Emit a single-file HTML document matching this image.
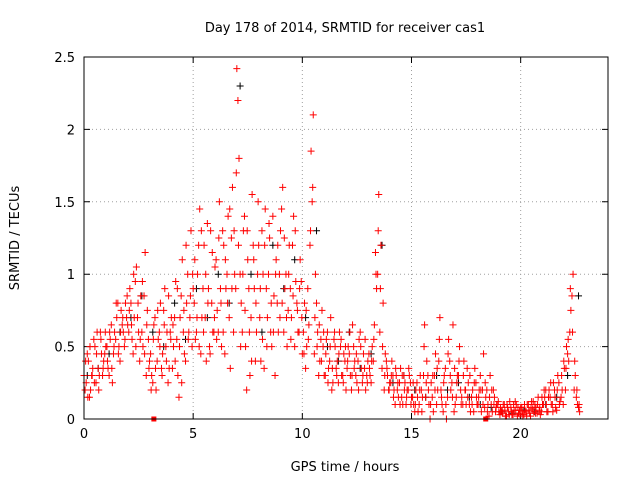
<!DOCTYPE html>
<html>
<head>
<meta charset="utf-8">
<style>
html,body{margin:0;padding:0;background:#fff;}
svg{display:block;}
text{font-family:"DejaVu Sans","Liberation Sans",sans-serif;font-size:13px;fill:#000;}
</style>
</head>
<body>
<svg id="chart" width="640" height="480" viewBox="0 0 640 480">
<rect x="0" y="0" width="640" height="480" fill="#fff"/>
<text x="345" y="32" text-anchor="middle">Day 178 of 2014, SRMTID for receiver cas1</text>
<text x="345" y="471" text-anchor="middle">GPS time / hours</text>
<text x="19" y="238" text-anchor="middle" transform="rotate(-90 19 238)">SRMTID / TECUs</text>
<g id="grid"></g>
<g id="ticks"></g>
<g id="marks"></g>
<rect x="84" y="57" width="524" height="362" fill="none" stroke="#000" stroke-width="1"/>
</svg>
<script>
const xTicks=[0,5,10,15,20];
const yTicks=[0,0.5,1,1.5,2,2.5];
const yTickLabels=["0","0.5","1","1.5","2","2.5"];
const redA=[.3,.25,.4,.2,.35,.5,.6,.3,.45,.4,.5,
.35,.55,.25,.6,.7,.5,.75,.6,.8,.65,
.9,.55,.7,1.05,.6,.85,.5,1.15,.75,.4,
.3,.65,.2,.55,.8,.45,.9,.6,.35,.7,
.5,.95,.3,.7,1.1,.45,.8,.6,1.3,.9,
.55,1.0,1.45,.7,1.2,.4,.9,1.3,.6,1.05,
.75,1.5,.5,1.2,.9,1.4,.35,1.6,1.0,2.42,
1.8,.8,1.3,.5,1.1,.3,1.55,.9,.6,1.2,
.4,1.0,1.45,.7,1.25,.5,.85,1.1,.6,1.3,
1.6,.9,.5,1.2,.7,1.4,.95,.6,1.1,.45,
.8,.5,.65,1.85,2.1,1.0,.6,.4,.75,.3,
.55,.35,.7,.25,.5,.4,.6,.3,.45,.2,
.5,.3,.65,.4,.25,.55,.35,.45,.2,.4,
.3,.5,.65,.9,1.55,1.2,.8,.45,.3,.25,
.4,.2,.3,.15,.35,.1,.25,.2,.3,.15,
.1,.2,.05,.3,.15,.65,.4,.1,.25,.05,
.45,.2,.7,.1,.3,.0,.55,.2,.65,.1,
.3,.5,.15,.4,.1,.25,.05,.2,.35,.1,
.2,.05,.45,.15,.1,.3,.05,.15,.1,.05,
.05,.1,.02,.08,.12,.03,.06,.1,.04,.08,
.02,.06,.1,.04,.12,.05,.08,.15,.03,.1,
.15,.05,.2,.1,.25,.08,.3,.12,.2,.35,
.5,.4,.75,1.0,.3,.1,.05];
const redB=[.2,.45,.15,.3,.55,.25,.35,.6,.3,.45,
.5,.3,.65,.45,.55,.8,.4,.65,.5,.7,
.6,.8,.45,.95,.7,.4,.6,.85,.3,.55,
.45,.25,.7,.4,.6,.35,.75,.5,.25,.6,
.35,.7,.55,.15,.85,.6,.4,1.0,.7,.5,
.8,.6,1.2,.45,.9,.7,1.35,.5,.8,.6,
1.1,.6,.9,1.3,.45,1.0,.7,1.25,.6,.9,
2.2,1.0,.6,1.4,.2,.9,.7,1.2,.4,1.0,
.7,1.3,.35,.9,1.0,.6,1.4,.3,.8,1.0,
1.45,.6,1.0,.75,.9,1.2,.5,.8,.6,.95,
.6,.35,.9,1.2,1.5,.45,.8,.3,.55,.5,
.3,.6,.4,.2,.55,.35,.25,.5,.3,.4,
.35,.45,.2,.5,.3,.4,.6,.25,.35,.3,
.45,.25,.4,1.15,1.0,.6,.35,.2,.4,.2,
.25,.3,.1,.2,.25,.15,.3,.1,.2,.25,
.15,.05,.25,.1,.2,.3,.15,.3,.0,.15,
.3,.1,.4,.2,.05,.35,.15,.4,.25,.05,
.15,.3,.2,.1,.2,.35,.1,.15,.05,.25,
.1,.3,.2,.08,.2,.02,.1,.2,.05,.1,
.03,.06,.1,.02,.05,.08,.03,.12,.02,.06,
.08,.03,.05,.1,.02,.07,.1,.04,.06,.05,
.1,.2,.05,.15,.1,.2,.06,.25,.15,.1,
.2,.45,.6,.85,.2,.15,.08];
const redC=[.4,.15,.5,.3,.25,.45,.2,.55,.35,.6,
.4,.6,.35,.5,.8,.45,.6,.7,.55,.85,
.75,.65,1.0,.5,.8,.55,.95,.45,.65,.35,
.2,.55,.35,.75,.5,.3,.65,.4,.85,.55,
.65,.4,.9,.5,.25,.75,1.2,.55,.85,1.0,
1.1,.7,.5,1.3,.6,1.0,.8,.45,1.15,.7,
.55,1.25,.8,.6,1.1,.8,1.45,.9,1.3,1.7,
1.2,.5,1.0,.75,1.3,.6,.4,1.1,.8,1.5,
.9,.55,1.2,.5,1.35,.8,.6,1.0,1.2,.7,
.8,1.25,.7,1.0,.55,.85,1.3,.75,.9,.7,
.45,.75,.55,1.3,1.6,.7,.5,.65,.4,.6,
.45,.25,.5,.35,.6,.3,.45,.55,.25,.5,
.4,.6,.3,.35,.45,.2,.5,.3,.55,.25,
.35,.4,.55,1.0,1.3,.9,.5,.3,.35,.2,
.3,.15,.35,.25,.1,.3,.2,.15,.35,.1,
.25,.1,.15,.2,.05,.5,.25,.2,.1,.3,
.2,.35,.55,.15,.25,.1,.45,.3,.15,.35,
.25,.4,.1,.3,.2,.15,.3,.1,.25,.15,
.15,.2,.1,.25,.05,.15,.2,.1,.08,.12,
.08,.04,.06,.1,.03,.05,.1,.06,.08,.03,
.05,.1,.02,.06,.08,.12,.04,.1,.08,.15,
.2,.1,.15,.25,.05,.15,.2,.1,.3,.4,
.35,.55,.9,.6,.4,.2,.1];
const black=[.3,.35,.45,.6,.7,.85,.6,.5,.8,.55,.9,.7,1.0,.8,2.3,1.0,.6,1.2,.9,1.1,.7,1.3,.5,.4,.6,.35,.45,1.2,.25,.3,.2,.15,.3,.2,.25,.15,.1,.08,.05,.04,.06,.05,.1,.15,.3,.85];
const squareTimes=[3.2,18.4];

const X0=84,X1=608,Y0=419,Y1=57,XMAX=24,YMAX=2.5;
function xs(t){return X0+(X1-X0)*t/XMAX;}
function ys(v){return Y0-(Y0-Y1)*v/YMAX;}
const NS="http://www.w3.org/2000/svg";
const grid=document.getElementById('grid'),ticks=document.getElementById('ticks'),marks=document.getElementById('marks');
function mk(tag,attrs,parent){const e=document.createElementNS(NS,tag);for(const k in attrs)e.setAttribute(k,attrs[k]);parent.appendChild(e);return e;}

xTicks.forEach(t=>{
  const x=xs(t);
  if(t>0){const g=mk('line',{x1:x,y1:Y0,x2:x,y2:Y1,stroke:'#a0a0a0','stroke-dasharray':'1,3'},grid);
  
  }
  const tk=mk('path',{d:`M${x} ${Y0}v-6M${x} ${Y1}v6`,stroke:'#000'},ticks);
  
  
  const l=mk('text',{x:x,y:Y0+19,'text-anchor':'middle'},ticks);l.textContent=String(t);
  
  
});
yTicks.forEach((v,i)=>{
  const y=ys(v);
  if(v>0&&v<YMAX){const g=mk('line',{x1:X0,y1:y,x2:X1,y2:y,stroke:'#a0a0a0','stroke-dasharray':'1,3'},grid);
  
  }
  const tk=mk('path',{d:`M${X0} ${y}h6M${X1} ${y}h-6`,stroke:'#000'},ticks);
  
  
  const l=mk('text',{x:X0-9,y:y+5,'text-anchor':'end'},ticks);l.textContent=yTickLabels[i];
  
  
});
function plus(t,v,color,name){
  const x=xs(t),y=ys(v);
  const p=mk('path',{d:`M${x-3.5} ${y}h7M${x} ${y-3.5}v7`,stroke:color,'stroke-width':1},marks);
  
  
}
black.forEach((v,i)=>plus(i*0.5+0.15,v,'#000','black-point'));
redA.forEach((v,i)=>plus(i*0.1,v,'#ff0000','red-point'));
redB.forEach((v,i)=>plus(i*0.1+0.05,v,'#ff0000','red-point'));
redC.forEach((v,i)=>plus(i*0.1+0.075,v,'#ff0000','red-point'));
squareTimes.forEach(t=>{
  const s=mk('rect',{x:xs(t)-2.5,y:Y0-2.5,width:5,height:5,fill:'#ff0000'},marks);
  
  
});
</script>
</body>
</html>
